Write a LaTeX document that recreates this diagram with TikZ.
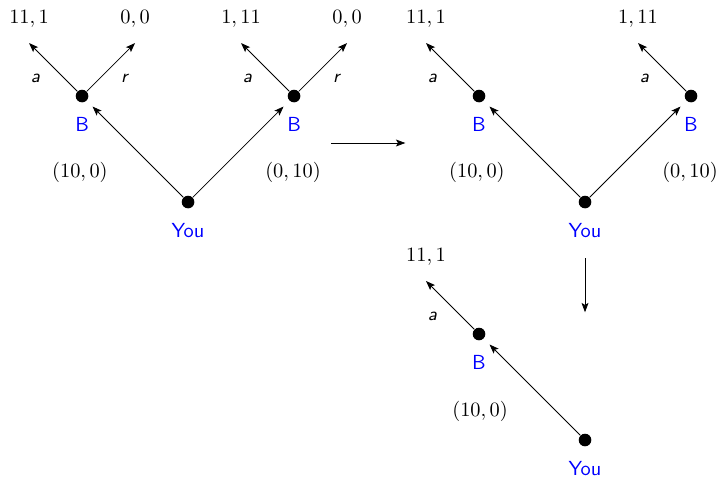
\documentclass[tikz,border=0pt]{standalone}
\usepackage{amsmath, amssymb}
\usepackage{tikz}
\usepackage{xcolor}
\usetikzlibrary{positioning,arrows.meta}

\begin{document}
\begin{tikzpicture}[x=1.83cm,y=1.83cm,>={Stealth[length=4.6pt,width=3.4pt,inset=1pt]},%
    dot/.style={circle,fill=black,inner sep=0pt,minimum size=6.2pt},%
    who/.style={text=blue,font=\sffamily,inner sep=1pt,label distance=5.8pt},%
    move/.style={font=\small\sffamily\itshape},%
    gain/.style={inner sep=3.33pt}]%
          \useasboundingbox (-1.774,-2.585) rectangle (5.009,1.906);%
          % full game
          \node [dot,label={[who]below:You}] (R1) at (0,0) {};%
          \node [dot,label={[who]below:B}] (BL1) at (-1,1) {};%
          \node [dot,label={[who]below:B}] (BR1) at (1,1) {};%
          \coordinate (la1) at (-1.5,1.5);%
          \coordinate (lr1) at (-0.5,1.5);%
          \coordinate (ra1) at (0.5,1.5);%
          \coordinate (rr1) at (1.5,1.5);%
          \node [gain,above=4pt of la1] (tla1) {$11,1$};%
          \node [gain,above=4pt of lr1] (tlr1) {$0,0$};%
          \node [gain,above=4pt of ra1] (tra1) {$1,11$};%
          \node [gain,above=4pt of rr1] (trr1) {$0,0$};%
          \draw [->,shorten >=4pt] (R1) to (BL1);%
          \draw [->,shorten >=4pt] (R1) to (BR1);%
          \draw [->] (BL1) to node [move,below left=0pt and 3pt] {a} (la1);%
          \draw [->] (BL1) to node [move,below right=0pt and 1.5pt] {r} (lr1);%
          \draw [->] (BR1) to node [move,below left=0pt and 3pt] {a} (ra1);%
          \draw [->] (BR1) to node [move,below right=0pt and 1.5pt] {r} (rr1);%
          \node (o1L) at (-1.02,0.28) {$(10,0)$};%
          \node (o1R) at (0.99,0.28) {$(0,10)$};%
          % step 1
          \coordinate (s1a) at (1.35,0.557);%
          \coordinate (s1b) at (2.05,0.557);%
          \draw [->] (s1a) to (s1b);%
          % B accepts
          \node [dot,label={[who]below:You}] (R2) at (3.745,0) {};%
          \node [dot,label={[who]below:B}] (BL2) at (2.745,1) {};%
          \node [dot,label={[who]below:B}] (BR2) at (4.745,1) {};%
          \coordinate (la2) at (2.245,1.5);%
          \coordinate (ra2) at (4.245,1.5);%
          \node [gain,above=4pt of la2] (tla2) {$11,1$};%
          \node [gain,above=4pt of ra2] (tra2) {$1,11$};%
          \draw [->,shorten >=4pt] (R2) to (BL2);%
          \draw [->,shorten >=4pt] (R2) to (BR2);%
          \draw [->] (BL2) to node [move,below left=0pt and 3pt] {a} (la2);%
          \draw [->] (BR2) to node [move,below left=0pt and 3pt] {a} (ra2);%
          \node (o2L) at (2.725,0.28) {$(10,0)$};%
          \node (o2R) at (4.735,0.28) {$(0,10)$};%
          % step 2
          \coordinate (s2a) at (3.745,-0.528);%
          \coordinate (s2b) at (3.745,-1.04);%
          \draw [->] (s2a) to (s2b);%
          % You choose
          \node [dot,label={[who]below:You}] (R3) at (3.745,-2.245) {};%
          \node [dot,label={[who]below:B}] (BL3) at (2.745,-1.245) {};%
          \coordinate (la3) at (2.245,-0.745);%
          \node [gain,above=4pt of la3] (tla3) {$11,1$};%
          \draw [->,shorten >=4pt] (R3) to (BL3);%
          \draw [->] (BL3) to node [move,below left=0pt and 3pt] {a} (la3);%
          \node (o3L) at (2.755,-1.972) {$(10,0)$};%
        \end{tikzpicture}
\end{document}
